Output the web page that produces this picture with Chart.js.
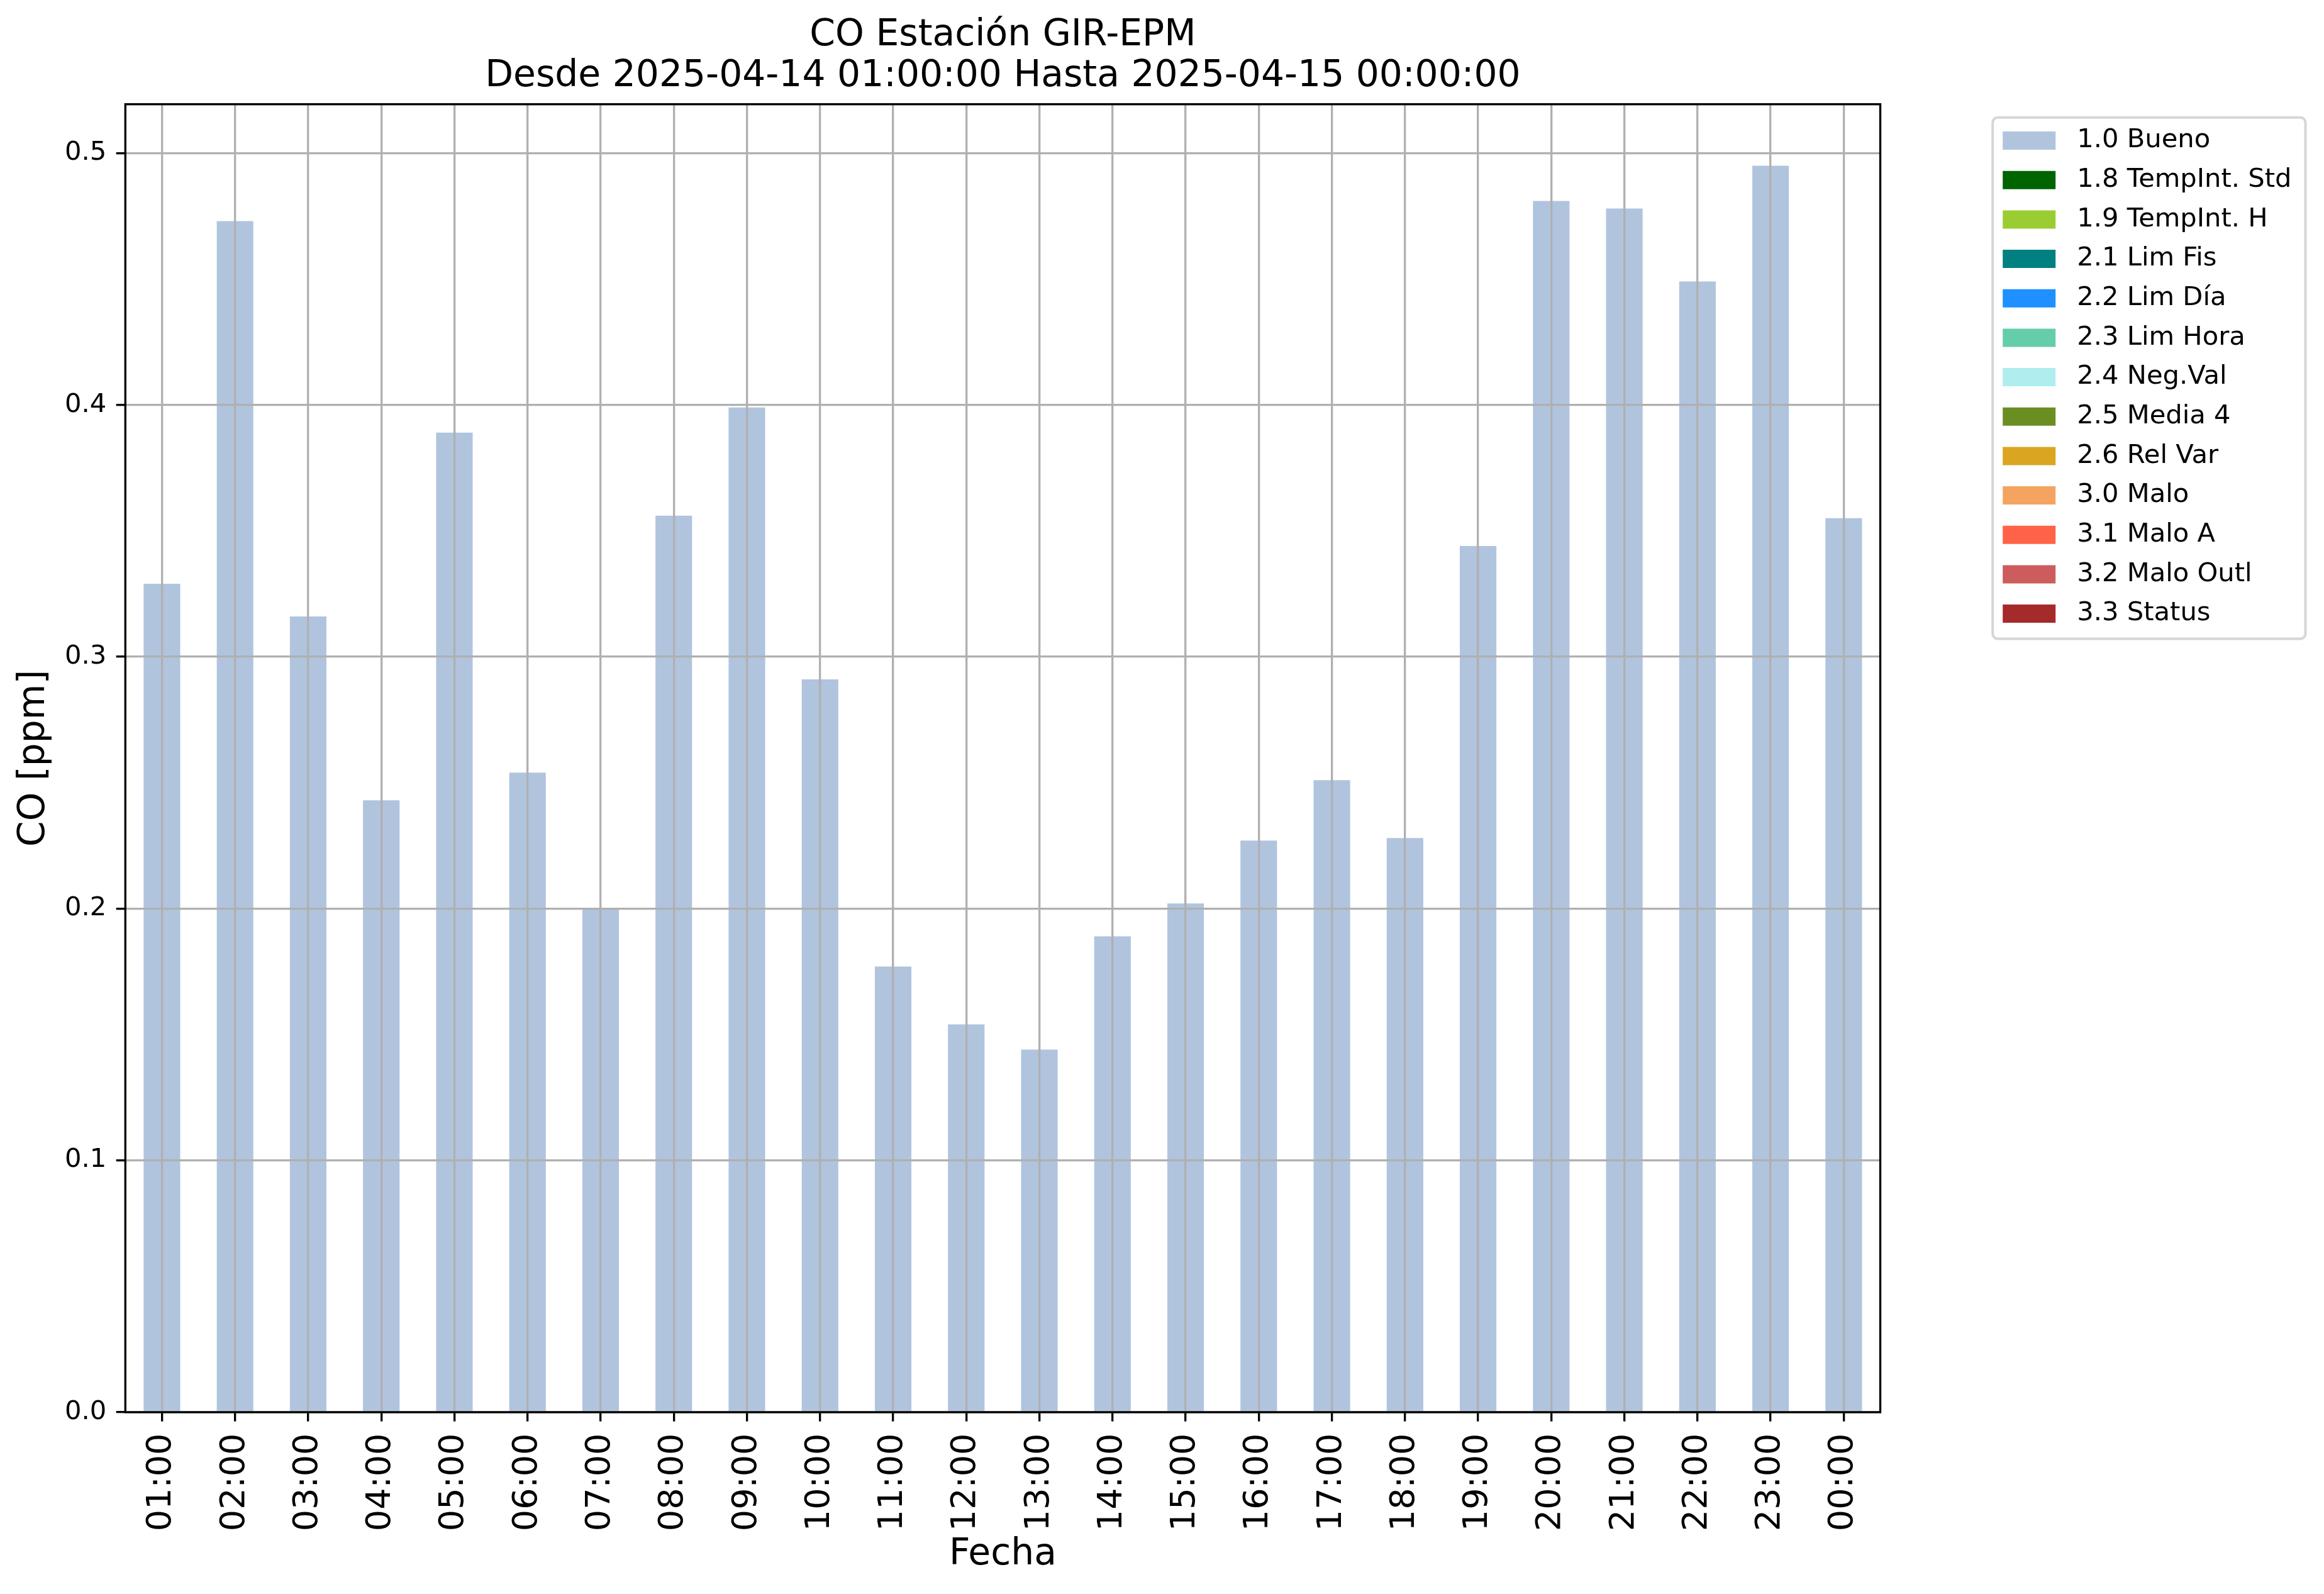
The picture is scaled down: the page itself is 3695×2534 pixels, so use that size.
<!DOCTYPE html>
<html lang="es">
<head>
<meta charset="utf-8">
<title>CO Estación GIR-EPM</title>
<script src="https://cdn.jsdelivr.net/npm/chart.js@4.4.1/dist/chart.umd.min.js"></script>
<style>
  html, body { margin: 0; padding: 0; background: #fff; }
  canvas { display: block; }
</style>
</head>
<body>
<canvas id="grafico" width="3695" height="2534"></canvas>
<script>
const horas = [
  "01:00", "02:00", "03:00", "04:00", "05:00", "06:00", "07:00", "08:00",
  "09:00", "10:00", "11:00", "12:00", "13:00", "14:00", "15:00", "16:00",
  "17:00", "18:00", "19:00", "20:00", "21:00", "22:00", "23:00", "00:00",
];

// CO [ppm], serie "1.0 Bueno"
const valoresCO = [
  0.329, 0.473, 0.316, 0.243, 0.389, 0.254, 0.200, 0.356,
  0.399, 0.291, 0.177, 0.154, 0.144, 0.189, 0.202, 0.227,
  0.251, 0.228, 0.344, 0.481, 0.478, 0.449, 0.495, 0.355,
];

const categorias = [
  "1.0 Bueno", "1.8 TempInt. Std", "1.9 TempInt. H", "2.1 Lim Fis",
  "2.2 Lim Día", "2.3 Lim Hora", "2.4 Neg.Val", "2.5 Media 4",
  "2.6 Rel Var", "3.0 Malo", "3.1 Malo A", "3.2 Malo Outl", "3.3 Status",
];

const coloresCategorias = [
  "#b0c4de", "#006400", "#9acd32", "#008080",
  "#1e90ff", "#66cdaa", "#afeeee", "#6b8e23",
  "#daa520", "#f4a460", "#ff6347", "#cd5c5c", "#a52a2a",
];

const ticksY = [0.0, 0.1, 0.2, 0.3, 0.4, 0.5];
const limiteY = 0.5194;

Chart.defaults.font.family = "'DejaVu Sans'";
Chart.defaults.color = "#000";

// rejilla encima de las barras (z: 1), como en matplotlib
const rejilla = {
  z: 1,
  color: "#b0b0b0",
  lineWidth: 3.33,
  drawTicks: true,
  tickLength: 14.6,
  tickColor: "#000",
  tickWidth: 3.33,
};

// marco de los ejes y caja de la leyenda
const marco = {
  id: "marco",
  afterDraw(chart) {
    const { ctx, chartArea: a, legend: lg } = chart;
    ctx.save();
    ctx.strokeStyle = "#000";
    ctx.lineWidth = 3.33;
    ctx.strokeRect(a.left, a.top, a.right - a.left, a.bottom - a.top);

    const fila = 41.67 + 21;
    const x0 = lg.left + 5;
    const y0 = lg.top + 21;
    const x1 = lg.right + 12;
    const y1 = y0 + categorias.length * fila + 14;
    ctx.strokeStyle = "#d6d6d6";
    ctx.lineWidth = 4;
    ctx.beginPath();
    ctx.roundRect(x0, y0, x1 - x0, y1 - y0, 8);
    ctx.stroke();
    ctx.restore();
  },
};

let grafico = new Chart(document.getElementById("grafico"), {
  type: "bar",
  data: {
    labels: horas,
    datasets: categorias.map((nombre, i) => ({
      label: nombre,
      data: i === 0 ? valoresCO : [],
      backgroundColor: coloresCategorias[i],
      borderWidth: 0,
      barPercentage: 0.5,
      categoryPercentage: 1.0,
    })),
  },
  options: {
    responsive: false,
    devicePixelRatio: 1,
    animation: false,
    layout: {
      padding: { left: 0, right: 41.5, top: 0, bottom: 0 },
    },
    scales: {
      x: {
        stacked: true,
        offset: true,
        grid: { ...rejilla, offset: false },
        border: { display: false },
        ticks: {
          autoSkip: false,
          minRotation: 90,
          maxRotation: 90,
          padding: 19,
          font: { size: 54 },
        },
        title: {
          display: true,
          text: "Fecha",
          font: { size: 58.3, lineHeight: 1.2 },
          padding: { top: 0, bottom: 27 },
        },
        afterFit: (s) => {
          s.height = 289;
        },
      },
      y: {
        stacked: true,
        min: 0,
        max: limiteY,
        grid: rejilla,
        border: { display: false },
        afterBuildTicks: (s) => {
          s.ticks = ticksY.map((v) => ({ value: v }));
        },
        ticks: {
          padding: 15.5,
          font: { size: 41.67 },
          callback: (v) => v.toFixed(1),
        },
        title: {
          display: true,
          text: "CO [ppm]",
          font: { size: 58.3, lineHeight: 1.2 },
          padding: { top: 20, bottom: 0 },
        },
        afterFit: (s) => {
          s.width = 199.3;
        },
      },
      // solo deja el hueco entre el gráfico y la leyenda
      y2: {
        position: "right",
        grid: { display: false },
        border: { display: false },
        ticks: { display: false },
        afterFit: (s) => {
          s.width = 173.7;
        },
      },
    },
    plugins: {
      title: {
        display: true,
        fullSize: false,
        text: [
          "CO Estación GIR-EPM",
          "Desde 2025-04-14 01:00:00 Hasta 2025-04-15 00:00:00",
        ],
        font: { size: 58.3, weight: "normal", lineHeight: 1.115 },
        padding: { top: 24, bottom: 11.7 },
      },
      legend: {
        position: "right",
        align: "start",
        fullSize: false,
        title: { display: true, text: "", padding: 0, font: { size: 16, lineHeight: 1 } },
        labels: {
          boxWidth: 84,
          boxHeight: 29,
          padding: 21,
          font: { size: 41.67 },
          generateLabels: (chart) =>
            Chart.defaults.plugins.legend.labels
              .generateLabels(chart)
              .map((item) => ({ ...item, text: " " + item.text })),
        },
      },
      tooltip: { enabled: false },
    },
  },
  plugins: [marco],
});
</script>
</body>
</html>
